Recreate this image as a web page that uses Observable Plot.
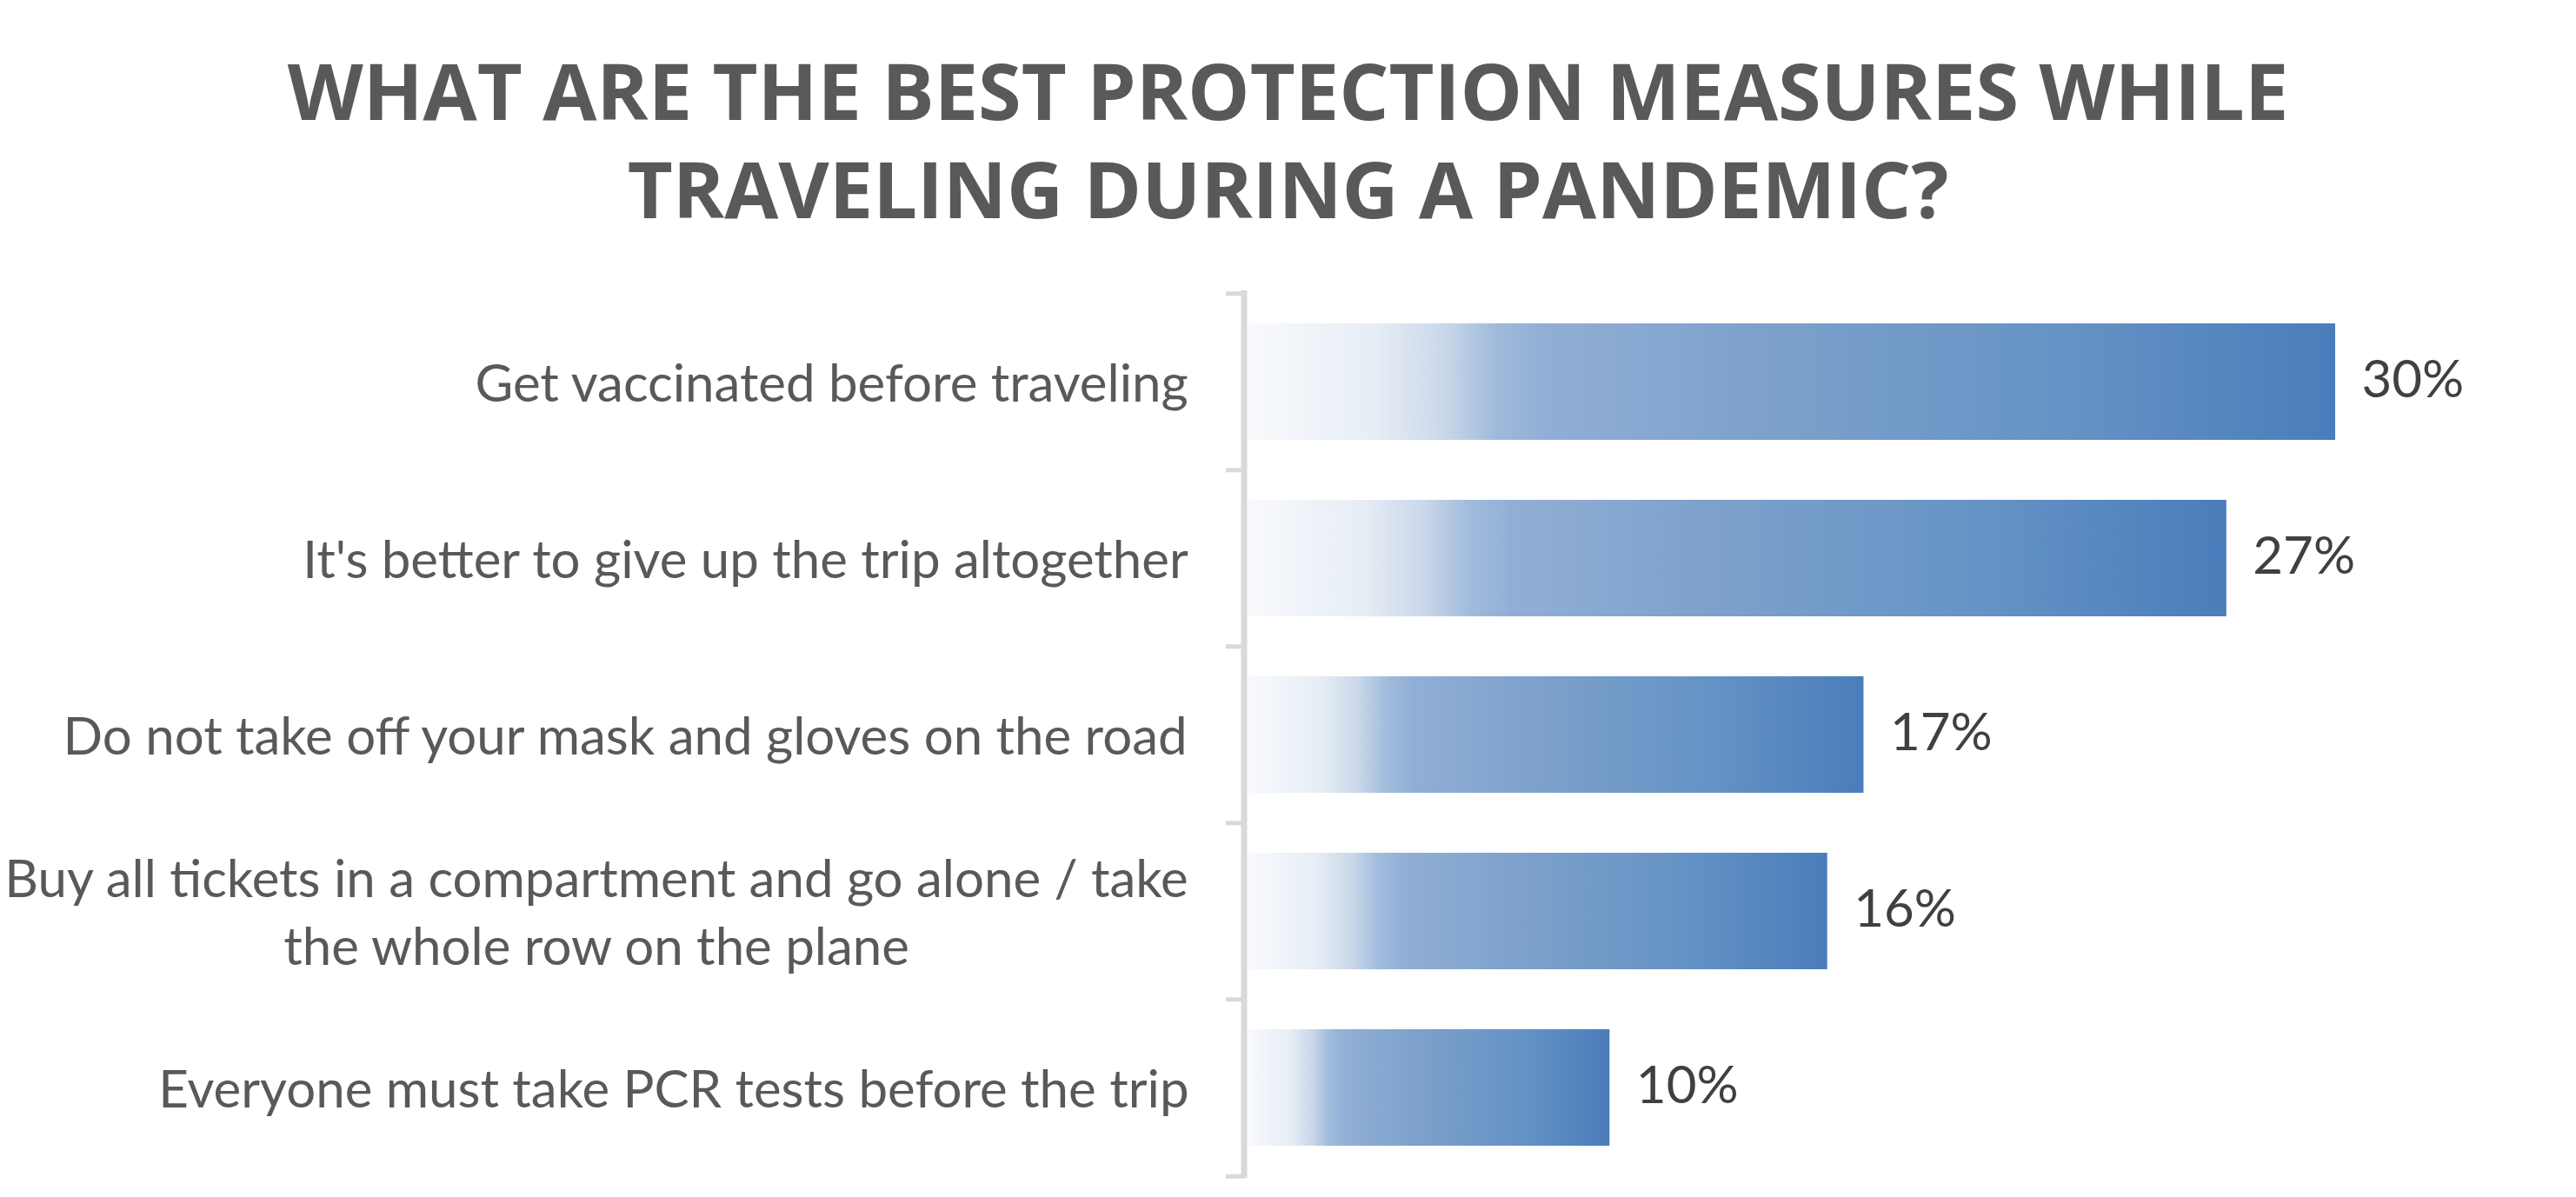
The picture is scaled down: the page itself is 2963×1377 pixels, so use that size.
<!DOCTYPE html>
<html>
<head>
<meta charset="utf-8">
<script src="https://cdn.jsdelivr.net/npm/d3@7"></script>
<script src="https://cdn.jsdelivr.net/npm/@observablehq/plot@0.6"></script>
<style>
  html, body { margin: 0; padding: 0; background: #ffffff; }
  #title {
    margin: 0;
    padding-top: 47px;
    height: 226px;
    font-family: "Open Sans", sans-serif;
    font-weight: 700;
    font-size: 90px;
    line-height: 113px;
    color: #595959;
    text-align: center;
  }
  #chart svg { display: block; }
</style>
</head>
<body>
<div id="title">WHAT ARE THE BEST PROTECTION MEASURES WHILE<br>TRAVELING DURING A PANDEMIC?</div>
<div id="chart"></div>
<script>
// Survey answers, top to bottom
const categories = [
  "Get vaccinated before traveling",
  "It's better to give up the trip altogether",
  "Do not take off your mask and gloves on the road",
  "Buy all tickets in a compartment and go alone / take\nthe whole row on the plane",
  "Everyone must take PCR tests before the trip"
];
// Share of respondents, percent
const values = [30, 27, 17, 16, 10];

const data = categories.map((category, i) => ({category, value: values[i]}));

// Layout
const W = 2963, H = 1104;
const margin = {top: 63, right: 277, bottom: 24, left: 1434};
const step = (H - margin.top - margin.bottom) / categories.length;
const labelFont = "Lato, sans-serif";
const labelSize = 60;
const labelGap = 67;

// Width of the longest line of each category label, so multi-line labels
// can be centered as a block that ends just left of the axis.
const ctx = document.createElement("canvas").getContext("2d");
ctx.font = `${labelSize}px Lato`;
const blockWidths = categories.map(c =>
  d3.max(c.split("\n"), line => ctx.measureText(line).width)
);

// Horizontal gradient applied to each bar (objectBoundingBox units)
const gradientDefs = () => {
  const defs = d3.create("svg:defs");
  const g = defs.append("linearGradient")
    .attr("id", "barGradient")
    .attr("x1", 0).attr("x2", 1).attr("y1", 0).attr("y2", 0);
  [
    [0.00, "#f9fafd"],
    [0.12, "#e6edf5"],
    [0.18, "#cad8ea"],
    [0.23, "#9fbadb"],
    [0.27, "#91afd6"],
    [0.45, "#7fa2cc"],
    [0.75, "#6593c5"],
    [1.00, "#4a7dbb"]
  ].forEach(([offset, color]) =>
    g.append("stop").attr("offset", offset).attr("stop-color", color)
  );
  return defs.node();
};

const categoryLabels = categories.map((c, i) =>
  Plot.text([c], {
    x: () => 0,
    y: d => d,
    text: d => d,
    textAnchor: "middle",
    lineAnchor: "middle",
    lineHeight: 1.3,
    dx: -(labelGap + blockWidths[i] / 2),
    dy: -2,
    fill: "#595959",
    fontSize: labelSize,
    fontFamily: labelFont
  })
);

const chart = Plot.plot({
  width: W,
  height: H,
  marginTop: margin.top,
  marginRight: margin.right,
  marginBottom: margin.bottom,
  marginLeft: margin.left,
  style: {background: "transparent", overflow: "visible"},
  x: {domain: [0, 30], axis: null},
  y: {domain: categories, paddingInner: 0.34, paddingOuter: 0.17, axis: null},
  marks: [
    gradientDefs,
    Plot.barX(data, {
      x: "value",
      y: "category",
      fill: "url(#barGradient)"
    }),
    // vertical axis line
    Plot.ruleX([0], {
      dx: -3.5,
      stroke: "#d9d9d9",
      strokeWidth: 7,
      insetTop: -2,
      insetBottom: -2
    }),
    // category boundary ticks: above each band, plus one below the last
    Plot.ruleY(categories, {
      y: d => d,
      x1: () => 0,
      x2: () => 0,
      dy: -step / 2,
      insetLeft: -24,
      insetRight: 2,
      stroke: "#d9d9d9",
      strokeWidth: 5
    }),
    Plot.ruleY(categories.slice(-1), {
      y: d => d,
      x1: () => 0,
      x2: () => 0,
      dy: step / 2,
      insetLeft: -24,
      insetRight: 2,
      stroke: "#d9d9d9",
      strokeWidth: 5
    }),
    ...categoryLabels,
    Plot.text(data, {
      x: "value",
      y: "category",
      text: d => `${d.value}%`,
      textAnchor: "start",
      dx: 30,
      dy: -2,
      fill: "#404040",
      fontSize: labelSize,
      fontFamily: labelFont
    })
  ]
});

document.getElementById("chart").appendChild(chart);
</script>
</body>
</html>
